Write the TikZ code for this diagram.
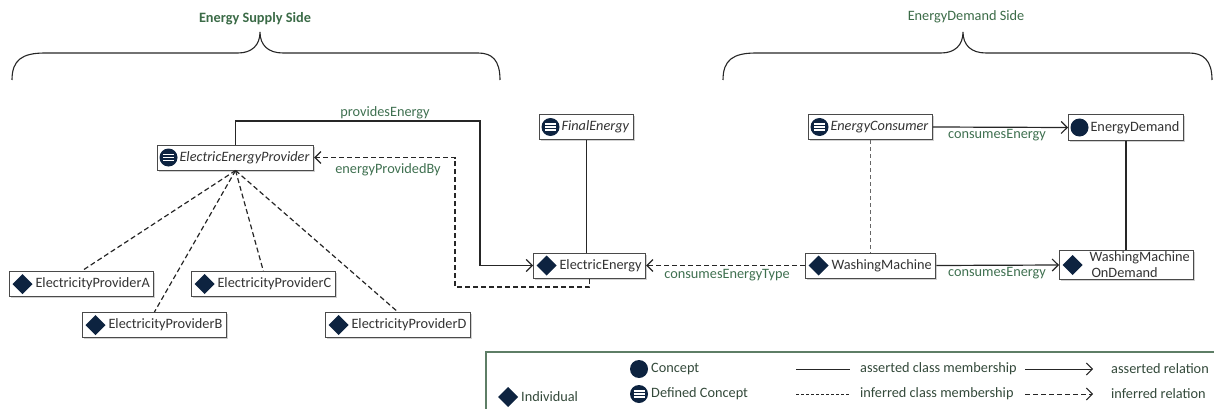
\documentclass[tikz,border=0pt]{standalone}
\usepackage{fontspec}
\setmainfont{Carlito}
\usetikzlibrary{arrows.meta,shadows}
\definecolor{navy}{HTML}{0D2340}
\definecolor{lblgreen}{HTML}{3F7050}
\definecolor{bracegreen}{HTML}{3B6B47}
\definecolor{boxline}{HTML}{4A4A4A}
\definecolor{legline}{HTML}{5E7E66}
\definecolor{legtext}{HTML}{33493A}
\tikzset{
  box/.style={draw=boxline, line width=1pt, fill=white, rectangle, anchor=west,
    minimum height=25pt, inner xsep=4pt, inner ysep=2pt, text=black!80,
    font=\fontsize{14.3}{16}\selectfont,
    drop shadow={shadow xshift=1.5pt, shadow yshift=-1.5pt, fill=black!18, opacity=1}},
  indiv/.style={box, path picture={\fill[navy] ([xshift=13pt]path picture bounding box.west)
      +(-10pt,0pt) -- +(0pt,10pt) -- +(10pt,0pt) -- +(0pt,-10pt) -- cycle;}},
  concept/.style={box, path picture={\fill[navy] ([xshift=11pt]path picture bounding box.west) circle (9pt);}},
  defined/.style={box, path picture={\fill[navy] ([xshift=11pt]path picture bounding box.west) circle (9pt);
      \foreach \dy in {-3,0,3} \draw[white, line width=1.3pt] ([xshift=11pt,yshift=\dy pt]path picture bounding box.west) +(-5.5pt,0pt) -- +(5.5pt,0pt);}},
  rel/.style={line width=1.2pt, draw=black!85, -{Straight Barb[length=6pt,width=12pt]}},
  irel/.style={rel, dash pattern=on 5pt off 3pt},
  mem/.style={line width=1.2pt, draw=black!85},
  imem/.style={mem, dash pattern=on 5pt off 3pt},
  thinmem/.style={line width=0.8pt, draw=black!60, dash pattern=on 4pt off 3pt},
  lbl/.style={text=lblgreen, font=\fontsize{14.3}{16}\selectfont, inner sep=1pt},
  legtxt/.style={text=legtext, font=\fontsize{14.3}{16}\selectfont, inner sep=0pt, anchor=west},
  bracelbl/.style={text=bracegreen, font=\fontsize{14.3}{16}\selectfont},
  bracepath/.style={line width=1.1pt, draw=black!85}
}
\begin{document}
\begin{tikzpicture}[x=1pt,y=-1pt]
\useasboundingbox (0,0) rectangle (1214,409);

% braces
\draw[bracepath] (12,80) .. controls (12,60) and (22,53) .. (45,53) -- (238,53)
  .. controls (252,53) and (260,45) .. (260,32) .. controls (260,45) and (268,53) .. (283,53)
  -- (478,53) .. controls (492,53) and (500,60) .. (500,80);
\node[bracelbl, font=\fontsize{14.3}{16}\selectfont\bfseries] (supply) at (255,19) {Energy Supply Side};
\draw[bracepath] (723,80) .. controls (723,60) and (733,53) .. (756,53) -- (941,53)
  .. controls (955,53) and (963,45) .. (963,32) .. controls (963,45) and (971,53) .. (986,53)
  -- (1189,53) .. controls (1203,53) and (1212,60) .. (1212,80);
\node[bracelbl] (demand) at (966,17) {EnergyDemand Side};

% nodes
\node[defined] (eep) at (157,157.5) {\hspace*{18pt}\textit{ElectricEnergyProvider}};
\node[defined] (fe) at (539,127) {\hspace*{18pt}\textit{FinalEnergy}};
\node[defined] (ec) at (808,127) {\hspace*{18pt}\textit{EnergyConsumer}};
\node[concept] (ed) at (1068,127.5) {\hspace*{18pt}EnergyDemand};
\node[indiv] (ee) at (533,265.5) {\hspace*{22pt}ElectricEnergy};
\node[indiv] (wm) at (805,265.5) {\hspace*{22pt}WashingMachine};
\node[indiv, align=left, inner ysep=1pt] (wmod) at (1059,265) {\hspace*{26pt}WashingMachine\\\hspace*{28pt}OnDemand};
\node[indiv] (epA) at (9,284) {\hspace*{22pt}ElectricityProviderA};
\node[indiv] (epC) at (191,284) {\hspace*{22pt}ElectricityProviderC};
\node[indiv] (epB) at (82,325) {\hspace*{22pt}ElectricityProviderB};
\node[indiv] (epD) at (325,325) {\hspace*{22pt}ElectricityProviderD};

% class membership
\draw[imem] (eep.south) -- (epA.north);
\draw[imem] (eep.south) -- (epB.north);
\draw[imem] (eep.south) -- (epC.north);
\draw[imem] (eep.south) -- (epD.north);
\draw[mem] (fe.south) -- (fe.south |- ee.north);
\draw[thinmem] (ec.south) -- (ec.south |- wm.north);
\draw[mem] (ed.south) -- (ed.south |- wmod.north);

% relations
\coordinate (pe) at (480,121);
\draw[rel] (eep.north) |- (pe) |- (ee.west);
\node[lbl] (peL) at (385,113) {providesEnergy};
\coordinate (pb) at (455,287);
\draw[irel] (ee.south) |- (pb) |- (eep.east);
\node[lbl] (pbL) at (388,170) {energyProvidedBy};
\draw[rel] (ec.east) -- (ed.west);
\node[lbl] (ce1) at (997,135) {consumesEnergy};
\draw[rel] (wm.east) -- (wmod.west);
\node[lbl] (ce2) at (997,273) {consumesEnergy};
\draw[irel] (wm.west) -- (ee.east);
\node[lbl] (cet) at (727,275) {consumesEnergyType};

% legend
\coordinate (lgtl) at (486,352);
\coordinate (lgtr) at (1214,352);
\coordinate (lgbl) at (486,409);
\draw[legline, line width=1.2pt] (lgtr) -- (lgtl) -- (lgbl);
\fill[navy] (508,397) +(-10pt,0pt) -- +(0pt,10pt) -- +(10pt,0pt) -- +(0pt,-10pt) -- cycle;
\node[legtxt] (lInd) at (521,397) {Individual};
\fill[navy] (639,369) circle (9pt);
\node[legtxt] (lCon) at (651,369) {Concept};
\fill[navy] (639,394) circle (9pt);
\foreach \dy in {-3,0,3} \draw[white, line width=1.3pt] (633.5,394+\dy) -- (644.5,394+\dy);
\node[legtxt] (lDef) at (651,394) {Defined Concept};
\coordinate (l1a) at (796,369); \coordinate (l1b) at (850,369);
\draw[mem, line width=1pt] (l1a) -- (l1b);
\node[legtxt] (lAcm) at (860,369) {asserted class membership};
\coordinate (l2a) at (796,394); \coordinate (l2b) at (850,394);
\draw[mem, line width=1pt, dash pattern=on 3pt off 2pt] (l2a) -- (l2b);
\node[legtxt] (lIcm) at (860,394) {inferred class membership};
\coordinate (l3a) at (1025,369); \coordinate (l3b) at (1093,369);
\draw[rel, line width=1pt] (l3a) -- (l3b);
\node[legtxt] (lAr) at (1111,369) {asserted relation};
\coordinate (l4a) at (1025,394); \coordinate (l4b) at (1093,394);
\draw[irel, line width=1pt] (l4a) -- (l4b);
\node[legtxt] (lIr) at (1111,394) {inferred relation};
\end{tikzpicture}
\end{document}
